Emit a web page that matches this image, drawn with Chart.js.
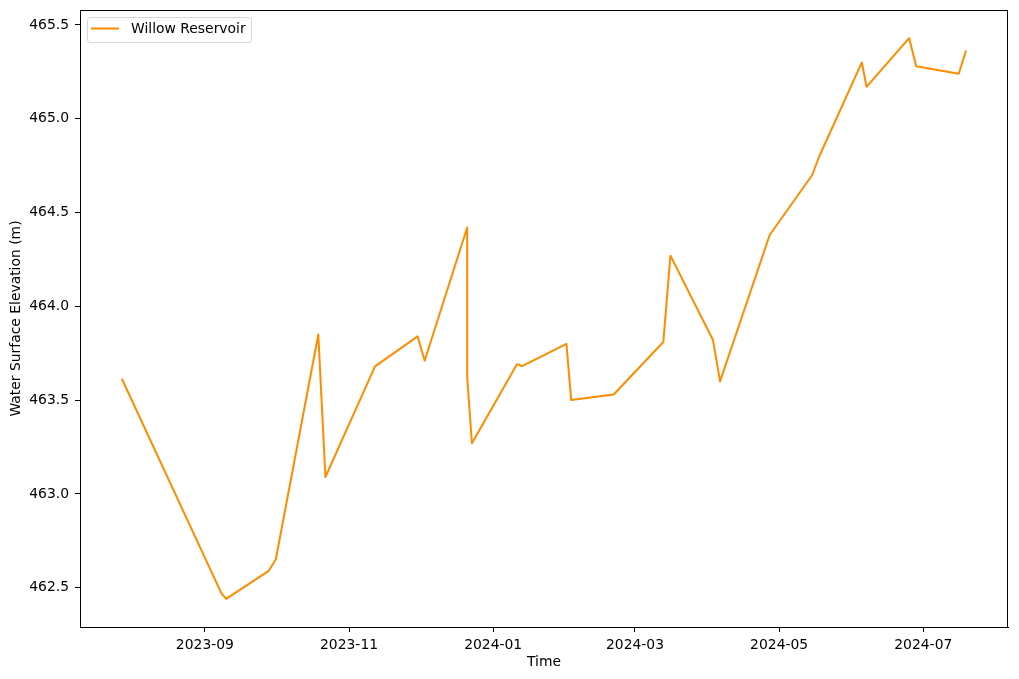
<!DOCTYPE html>
<html lang="en">
<head>
    <meta charset="UTF-8">
    <title>Willow Reservoir Elevation</title>
    <script src="https://cdn.jsdelivr.net/npm/chart.js"></script>
    <style>
        body { margin: 0; background: #fff; }
        #wrap { width: 1019px; height: 679px; position: relative; }
    </style>
</head>
<body>
    <div id="wrap">
        <canvas id="elevChart"></canvas>
    </div>

    <script>
        // readings
        const dates = ['2023-07-28', '2023-09-08', '2023-09-10', '2023-09-28', '2023-10-01',
            '2023-10-19', '2023-10-22', '2023-11-12', '2023-11-30', '2023-12-03',
            '2023-12-21', '2023-12-21', '2023-12-23', '2024-01-11', '2024-01-12',
            '2024-01-13', '2024-02-01', '2024-02-03', '2024-02-21', '2024-03-13',
            '2024-03-16', '2024-04-03', '2024-04-06', '2024-04-27', '2024-05-15',
            '2024-05-18', '2024-06-05', '2024-06-07', '2024-06-25', '2024-06-28',
            '2024-07-16', '2024-07-19'];
        const elevations = [463.61, 462.47, 462.44, 462.59, 462.65,
            463.85, 463.09, 463.68, 463.84, 463.71,
            464.42, 463.62, 463.27, 463.69, 463.69,
            463.68, 463.80, 463.50, 463.53, 463.81,
            464.27, 463.82, 463.60, 464.38, 464.70,
            464.80, 465.30, 465.17, 465.43, 465.28,
            465.24, 465.36];
        const seriesName = 'Willow Reservoir';
        const monthTicks = ['2023-09-01', '2023-11-01', '2024-01-01', '2024-03-01', '2024-05-01', '2024-07-01'];
        const yTicks = [462.5, 463.0, 463.5, 464.0, 464.5, 465.0, 465.5];

        const FONT = 'DejaVu Sans';
        Chart.defaults.font.family = FONT;
        Chart.defaults.font.size = 13.9;
        Chart.defaults.color = '#000';

        const pts = dates.map((d, i) => ({ x: Date.parse(d), y: elevations[i] }));

        // matplotlib style 5% margins
        const xs = pts.map(p => p.x), ys = pts.map(p => p.y);
        const xMin = Math.min(...xs), xMax = Math.max(...xs);
        const yMin = Math.min(...ys), yMax = Math.max(...ys);
        const xPad = (xMax - xMin) * 0.05, yPad = (yMax - yMin) * 0.05;

        function fmtMonth(ms) {
            const d = new Date(ms);
            return d.getUTCFullYear() + '-' + String(d.getUTCMonth() + 1).padStart(2, '0');
        }

        // frame + legend box drawn on top
        const framePlugin = {
            id: 'frame',
            afterDraw(chart) {
                const { ctx, chartArea: a } = chart;
                ctx.save();
                ctx.strokeStyle = '#000';
                ctx.lineWidth = 1;
                ctx.strokeRect(Math.round(a.left) + 0.5, Math.round(a.top) + 0.5,
                    Math.round(a.right - a.left) - 1, Math.round(a.bottom - a.top));

                const ds = chart.data.datasets[0];
                const bx = a.left + 7, by = a.top + 7, bw = 164, bh = 25;
                ctx.beginPath();
                ctx.roundRect(bx + 0.5, by + 0.5, bw, bh, 3);
                ctx.fillStyle = 'rgba(255,255,255,0.8)';
                ctx.fill();
                ctx.strokeStyle = '#d6d6d6';
                ctx.stroke();
                ctx.beginPath();
                ctx.moveTo(bx + 4, by + 11.5);
                ctx.lineTo(bx + 32, by + 11.5);
                ctx.strokeStyle = ds.borderColor;
                ctx.lineWidth = 2;
                ctx.stroke();
                ctx.fillStyle = '#000';
                ctx.font = '13.9px ' + FONT;
                ctx.textBaseline = 'middle';
                ctx.fillText(ds.label, bx + 44, by + 12);
                ctx.restore();
            }
        };

        const ctx = document.getElementById('elevChart').getContext('2d');
        new Chart(ctx, {
            type: 'line',
            data: {
                datasets: [{
                    label: seriesName,
                    data: pts,
                    borderColor: '#ff8c00',
                    borderWidth: 2,
                    borderJoinStyle: 'round',
                    borderCapStyle: 'round',
                    pointRadius: 0,
                    tension: 0,
                    fill: false
                }]
            },
            options: {
                responsive: true,
                maintainAspectRatio: false,
                animation: false,
                layout: { padding: { left: 0, right: 11, top: 10, bottom: 0 } },
                plugins: {
                    legend: { display: false },
                    tooltip: { enabled: false }
                },
                scales: {
                    x: {
                        type: 'linear',
                        min: xMin - xPad,
                        max: xMax + xPad,
                        afterBuildTicks: s => { s.ticks = monthTicks.map(m => ({ value: Date.parse(m) })); },
                        afterFit: s => { s.height = 52; s.paddingLeft = 0; s.paddingRight = 0; },
                        ticks: {
                            callback: v => fmtMonth(v),
                            maxRotation: 0,
                            autoSkip: false,
                            padding: 5
                        },
                        grid: {
                            drawOnChartArea: false,
                            drawTicks: true,
                            tickLength: 5,
                            color: '#000'
                        },
                        border: { display: true, color: '#000' },
                        title: {
                            display: true,
                            text: 'Time',
                            padding: { top: 4, bottom: 8 }
                        }
                    },
                    y: {
                        min: yMin - yPad,
                        max: yMax + yPad,
                        afterBuildTicks: s => { s.ticks = yTicks.map(v => ({ value: v })); },
                        afterFit: s => { s.width = 80; s.paddingTop = 0; s.paddingBottom = 0; },
                        ticks: {
                            callback: v => v.toFixed(1),
                            padding: 6
                        },
                        grid: {
                            drawOnChartArea: false,
                            drawTicks: true,
                            tickLength: 5,
                            color: '#000'
                        },
                        border: { display: true, color: '#000' },
                        title: {
                            display: true,
                            text: 'Water Surface Elevation (m)',
                            padding: 8
                        }
                    }
                }
            },
            plugins: [framePlugin]
        });
    </script>
</body>
</html>
